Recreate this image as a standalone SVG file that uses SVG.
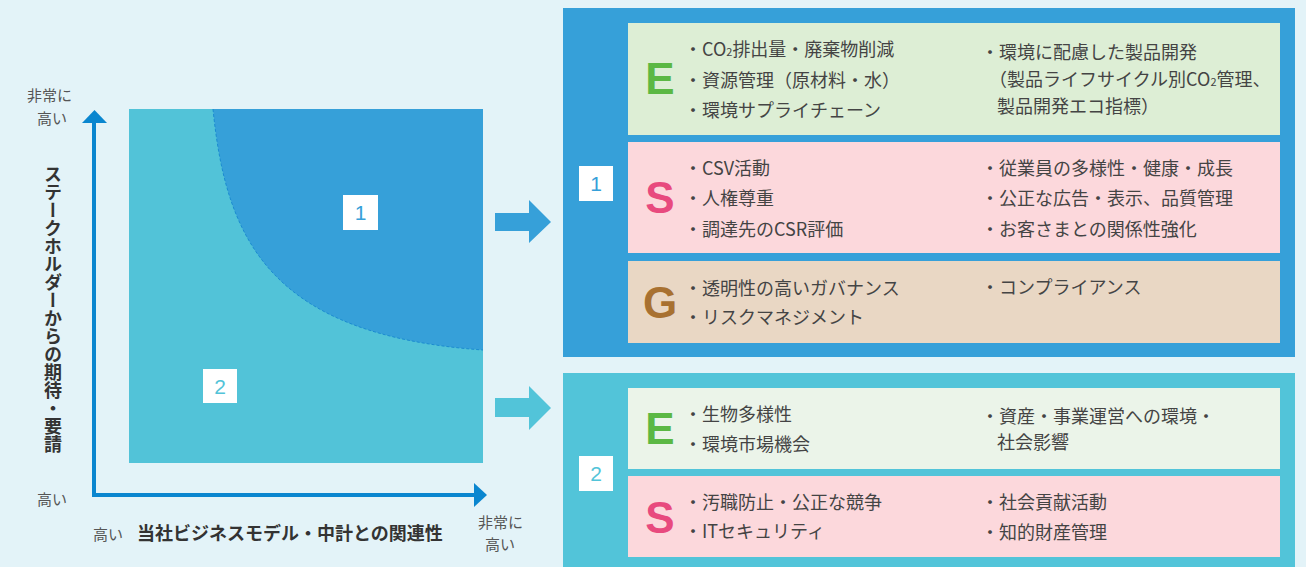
<svg xmlns="http://www.w3.org/2000/svg" width="1306" height="567" viewBox="0 0 1306 567">
<defs>
<style>
.t{font-family:"Noto Sans CJK JP","Noto Sans",sans-serif;font-size:18px;fill:#444}
.ax{font-family:"Noto Sans CJK JP","Noto Sans",sans-serif;font-size:15px;fill:#555}
.ttl{font-family:"Noto Sans CJK JP","Noto Sans",sans-serif;font-size:18px;font-weight:bold;fill:#333}
.big{font-family:"Liberation Sans",Arial,sans-serif;font-size:44px;font-weight:bold;text-anchor:middle}
.num{font-family:"Liberation Sans",Arial,sans-serif;font-size:21px;text-anchor:middle}
.axis{stroke:#0a86cf;stroke-width:4;fill:none}
</style>
</defs>
<rect x="0" y="0" width="1306" height="567" fill="#e3f3f8"/>

<g id="chart">
<rect x="129" y="109" width="354" height="354" fill="#52c3d8"/>
<path d="M213,109 C226,240 270,335 483,350 L483,109 Z" fill="#36a0d9"/>
<path d="M213,109 C226,240 270,335 483,350" fill="none" stroke="#1b8bd0" stroke-width="1" stroke-dasharray="3 2"/>
</g>

<g id="zone1-label">
<rect x="343" y="195" width="35" height="35" fill="#fff"/>
<text class="num" x="360.5" y="220" fill="#36a0d9">1</text>
</g>
<g id="zone2-label">
<rect x="203" y="369" width="34" height="34" fill="#fff"/>
<text class="num" x="220" y="394" fill="#52c3d8">2</text>
</g>

<g id="axes">
<path class="axis" d="M94,497 V120"/>
<polygon points="82,123 107,123 94.5,110" fill="#0a86cf"/>
<path class="axis" d="M92,495 H476"/>
<polygon points="474,483 474,507 487,495" fill="#0a86cf"/>
<text class="ax" x="27" y="101">非常に</text>
<text class="ax" x="37" y="124">高い</text>
<text class="ax" x="37" y="505">高い</text>
<text class="ax" x="93" y="540">高い</text>
<text class="ax" x="478" y="528">非常に</text>
<text class="ax" x="485" y="550">高い</text>
<text class="ttl" x="137" y="540">当社ビジネスモデル・中計との関連性</text>
<text class="ttl" x="53" y="165" writing-mode="vertical-rl" style="writing-mode:vertical-rl">ステークホルダーからの期待・要請</text>
</g>

<g id="connectors">
<polygon points="495,213 529,213 529,200 551,222 529,243 529,231 495,231" fill="#36a0d9"/>
<polygon points="495,398 529,398 529,386 551,408 529,430 529,417 495,417" fill="#52c4d9"/>
</g>

<g id="panel1">
<rect x="563" y="8" width="732" height="349" fill="#36a0d9"/>
<rect x="579" y="166" width="34" height="35" fill="#fff"/>
<text class="num" x="596" y="191" fill="#36a0d9">1</text>
<g id="p1-E">
<rect x="628" y="23" width="652" height="112" fill="#ddeed5"/>
<text class="big" x="660" y="94" fill="#5bb844">E</text>
<text class="t" x="684" y="56">・CO<tspan font-size="11">2</tspan>排出量・廃棄物削減</text>
<text class="t" x="684" y="87">・資源管理（原材料・水）</text>
<text class="t" x="684" y="117">・環境サプライチェーン</text>
<text class="t" x="981" y="59">・環境に配慮した製品開発</text>
<text class="t" x="989" y="86">（製品ライフサイクル別CO<tspan font-size="11">2</tspan>管理、</text>
<text class="t" x="997" y="113">製品開発エコ指標）</text>
</g>
<g id="p1-S">
<rect x="628" y="142" width="652" height="111" fill="#fcd8dc"/>
<text class="big" x="660" y="213" fill="#e84a7e">S</text>
<text class="t" x="684" y="175">・CSV活動</text>
<text class="t" x="684" y="205">・人権尊重</text>
<text class="t" x="684" y="236">・調達先のCSR評価</text>
<text class="t" x="981" y="175">・従業員の多様性・健康・成長</text>
<text class="t" x="981" y="205">・公正な広告・表示、品質管理</text>
<text class="t" x="981" y="236">・お客さまとの関係性強化</text>
</g>
<g id="p1-G">
<rect x="628" y="261" width="652" height="82" fill="#e9d7c4"/>
<text class="big" x="660" y="318" fill="#a87131">G</text>
<text class="t" x="684" y="295">・透明性の高いガバナンス</text>
<text class="t" x="684" y="324">・リスクマネジメント</text>
<text class="t" x="981" y="294">・コンプライアンス</text>
</g>
</g>

<g id="panel2">
<rect x="563" y="373" width="732" height="194" fill="#52c4d9"/>
<rect x="579" y="456" width="34" height="35" fill="#fff"/>
<text class="num" x="596" y="481" fill="#52c4d9">2</text>
<g id="p2-E">
<rect x="628" y="388" width="652" height="81" fill="#ebf4e9"/>
<text class="big" x="660" y="444" fill="#5bb844">E</text>
<text class="t" x="684" y="421">・生物多様性</text>
<text class="t" x="684" y="451">・環境市場機会</text>
<text class="t" x="981" y="423">・資産・事業運営への環境・</text>
<text class="t" x="997" y="449">社会影響</text>
</g>
<g id="p2-S">
<rect x="628" y="476" width="652" height="81" fill="#fcd8dc"/>
<text class="big" x="660" y="533" fill="#e84a7e">S</text>
<text class="t" x="684" y="509">・汚職防止・公正な競争</text>
<text class="t" x="684" y="538">・ITセキュリティ</text>
<text class="t" x="981" y="509">・社会貢献活動</text>
<text class="t" x="981" y="539">・知的財産管理</text>
</g>
</g>
</svg>
